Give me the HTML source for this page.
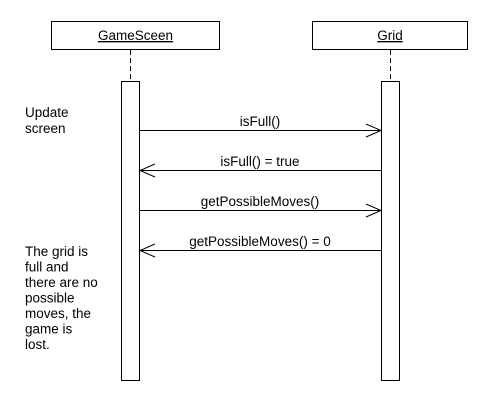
<!DOCTYPE html>
<html><head><style>
body{margin:0;background:#fff;}
svg text{font-family:"Liberation Sans",sans-serif;font-size:13.5px;fill:#000;}
</style></head><body>
<svg width="500" height="400" xmlns="http://www.w3.org/2000/svg">
<rect x="51.5" y="21.5" width="168" height="28" fill="#fff" stroke="#000"/>
<text x="135.5" y="40" text-anchor="middle" text-decoration="underline">GameSceen</text>
<rect x="312.5" y="21.5" width="155" height="28" fill="#fff" stroke="#000"/>
<text x="390" y="40" text-anchor="middle" text-decoration="underline">Grid</text>
<line x1="130.5" y1="50" x2="130.5" y2="81" stroke="#000" stroke-dasharray="5,3"/>
<line x1="390.5" y1="50" x2="390.5" y2="81" stroke="#000" stroke-dasharray="5,3"/>
<rect x="121.5" y="81.5" width="18" height="299" fill="#fff" stroke="#000"/>
<rect x="381.5" y="81.5" width="18" height="299" fill="#fff" stroke="#000"/>
<g stroke="#000" fill="none">
<line x1="140" y1="130.5" x2="381" y2="130.5"/><polyline points="366,124 381,130.5 366,137"/>
<line x1="140" y1="170.5" x2="381" y2="170.5"/><polyline points="155,164 140,170.5 155,177"/>
<line x1="140" y1="210.5" x2="381" y2="210.5"/><polyline points="366,204 381,210.5 366,217"/>
<line x1="140" y1="250.5" x2="381" y2="250.5"/><polyline points="155,244 140,250.5 155,257"/>
</g>
<text x="260" y="126" text-anchor="middle">isFull()</text>
<text x="260" y="166" text-anchor="middle">isFull() = true</text>
<text x="260" y="206" text-anchor="middle">getPossibleMoves()</text>
<text x="260" y="246" text-anchor="middle">getPossibleMoves() = 0</text>
<text x="25" y="117">Update</text>
<text x="25" y="133">screen</text>
<text x="25" y="256">The grid is</text>
<text x="25" y="271.5">full and</text>
<text x="25" y="287">there are no</text>
<text x="25" y="302.5">possible</text>
<text x="25" y="318">moves, the</text>
<text x="25" y="333.5">game is</text>
<text x="25" y="349">lost.</text>
</svg>
</body></html>
